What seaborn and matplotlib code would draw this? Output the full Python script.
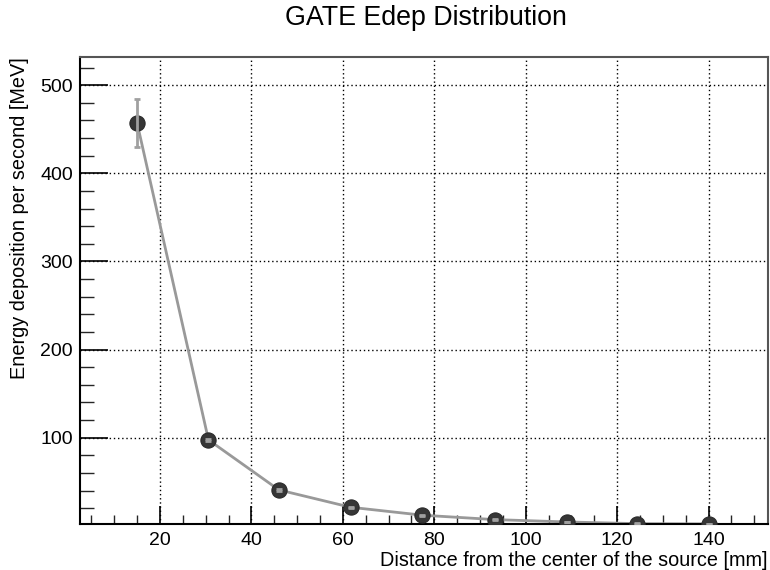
import numpy as np
import pandas as pd
import matplotlib
matplotlib.use("Agg")
import matplotlib.pyplot as plt
import seaborn as sns
from matplotlib.ticker import MultipleLocator

# Values
distance_mm = [15.0, 30.6, 46.0, 61.7, 77.4, 93.2, 109.1, 124.4, 140.1]
edep_mev = [457.0, 97.5, 40.7, 21.0, 12.0, 7.0, 4.3, 2.4, 2.1]
edep_err = [27.0, 1.2, 0.8, 0.6, 0.5, 0.4, 0.4, 0.3, 0.3]

title = "GATE Edep Distribution"
x_label = "Distance from the center of the source [mm]"
y_label = "Energy deposition per second [MeV]"

df = pd.DataFrame({"distance": distance_mm, "edep": edep_mev, "err": edep_err})

sns.set_theme(style="white")
plt.rcParams["font.family"] = ["Liberation Sans", "DejaVu Sans"]

fig = plt.figure(figsize=(7.7, 5.7), dpi=100)
ax = fig.add_axes([80 / 770, 46 / 570, 688 / 770, 467 / 570])

# connecting line
sns.lineplot(data=df, x="distance", y="edep", ax=ax, color="#999999",
             linewidth=2, zorder=2, sort=False)
# markers
sns.scatterplot(data=df, x="distance", y="edep", ax=ax, color="#363636",
                s=120, edgecolor="#2a2a2a", linewidth=0.8, zorder=3)
# error bars drawn over the markers, ROOT style
ax.errorbar(df["distance"], df["edep"], yerr=df["err"], fmt="none",
            ecolor="#a0a0a0", elinewidth=2, capsize=2.5, capthick=2, zorder=4)

ax.set_xlim(2.5, 153)
ax.set_ylim(2.0, 532)

ax.xaxis.set_major_locator(MultipleLocator(20))
ax.xaxis.set_minor_locator(MultipleLocator(5))
ax.yaxis.set_major_locator(MultipleLocator(100))
ax.yaxis.set_minor_locator(MultipleLocator(20))
ax.set_xticks([20, 40, 60, 80, 100, 120, 140])
ax.set_yticks([100, 200, 300, 400, 500])

ax.tick_params(axis="x", which="major", direction="in", length=13, width=1.2,
               labelsize=14, pad=6, colors="black")
ax.tick_params(axis="x", which="minor", direction="in", length=6.5, width=1.0)
ax.tick_params(axis="y", which="major", direction="in", length=20, width=1.2,
               labelsize=14, pad=5, colors="black")
ax.tick_params(axis="y", which="minor", direction="in", length=10, width=1.0)
ax.tick_params(which="both", top=False, right=False, bottom=True, left=True)

ax.grid(True, which="major", color="black", linestyle=(0, (1, 2)), linewidth=1.0)
ax.set_axisbelow(True)

for side, sp in ax.spines.items():
    sp.set_visible(True)
    sp.set_color("black")
    sp.set_linewidth(1.5)
ax.spines["top"].set_color("#555555")
ax.spines["right"].set_color("#555555")

ax.set_xlabel(x_label, fontsize=14.3, loc="right", labelpad=1, color="black")
ax.set_ylabel(y_label, fontsize=14.3, loc="top", labelpad=8, color="black")
fig.text(0.553, 0.968, title, ha="center", va="center", fontsize=19.3,
         color="black")

fig.savefig("out.png", dpi=100, facecolor="white")
